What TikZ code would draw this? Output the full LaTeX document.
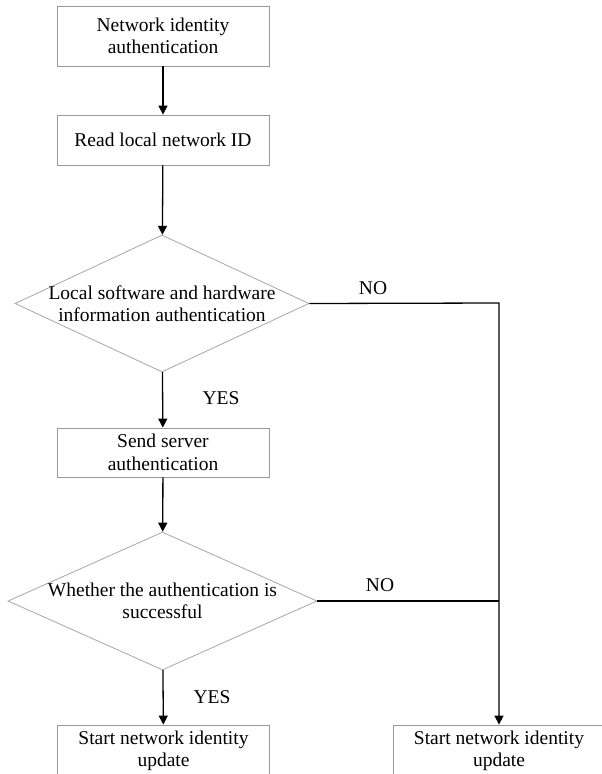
\documentclass[tikz,border=0pt]{standalone}
\usepackage{fontspec}
\setmainfont{Liberation Serif}
\usetikzlibrary{shapes.geometric,arrows.meta}

\begin{document}
\begin{tikzpicture}[x=1bp,y=-1bp,
  every node/.style={font=\fontsize{19.5bp}{22.5bp}\selectfont, align=center},
  procbox/.style={draw=black!40, line width=0.8bp, rectangle, inner sep=0pt,
                  minimum width=212bp},
  decision/.style={draw=black!35, line width=0.8bp, diamond, inner sep=0pt},
  flow/.style={draw=black, line width=1.3bp, -{Triangle[length=9bp,width=9bp]}},
  plainline/.style={draw=black, line width=1.3bp},
  tag/.style={inner sep=0pt}
]
\useasboundingbox (0,0) rectangle (602,774);

% process steps
\node[procbox, minimum height=60bp] (auth)   at (163,36)    {Network identity\\authentication};
\node[procbox, minimum height=50bp] (readid) at (163,140)   {Read local network ID};
\node[procbox, minimum height=49bp] (send)   at (163,452.5) {Send server\\authentication};
\node[procbox, minimum height=52bp] (updL)   at (163.5,751) {Start network identity\\update};
\node[procbox, minimum height=52bp] (updR)   at (499,751)   {Start network identity\\update};

% decisions (shape first, text on top so it may touch the edges)
\node[decision, minimum width=294bp, minimum height=137bp] (check) at (162,303.5) {};
\node at (check) {Local software and hardware\\information authentication};
\node[decision, minimum width=309bp, minimum height=138bp] (ok) at (162.5,601) {};
\node at (ok) {Whether the authentication is\\successful};

% main path
\draw[flow] (auth) -- (readid);
\draw[flow] (readid) -- (check);
\draw[flow] (check) -- (send);
\draw[flow] (send) -- (ok);
\draw[flow] (ok) -- (updL);

% failure path
\coordinate (turn) at (499,303);
\coordinate (join) at (499,601);
\draw[flow] (check.east) -- (turn) -- (updR.north);
\draw[plainline] (ok.east) -- (join);

% branch labels
\node[tag] at (221,398) {YES};
\node[tag] at (212,697) {YES};
\node[tag] at (373,288) {NO};
\node[tag] at (380,585) {NO};
\end{tikzpicture}
\end{document}
